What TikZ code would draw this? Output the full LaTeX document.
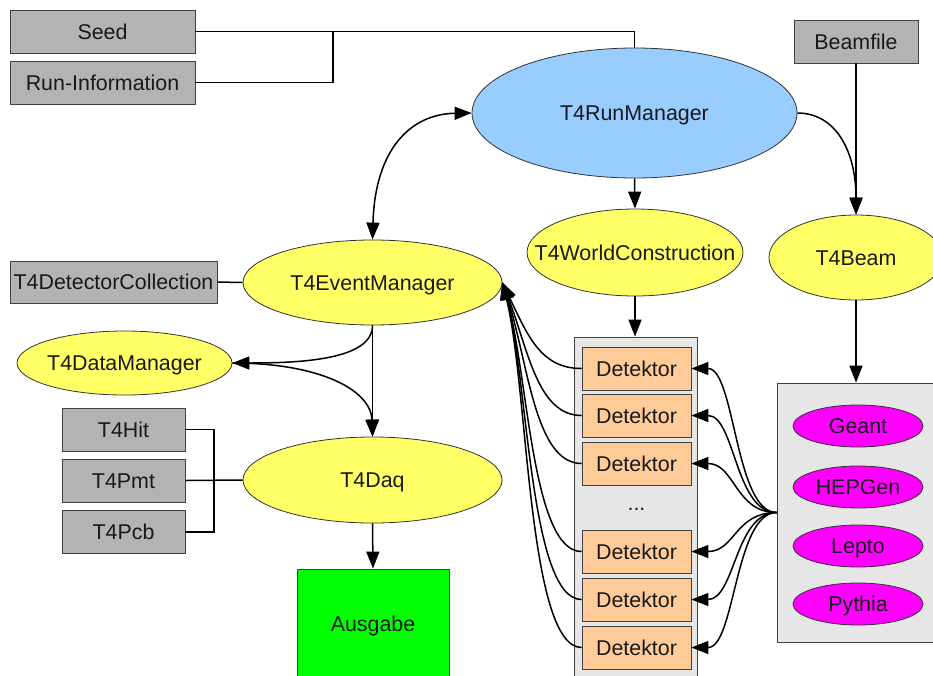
\documentclass[tikz,border=0pt]{standalone}
\usepackage{fontspec}
\setmainfont{Liberation Sans}
\usetikzlibrary{arrows.meta,shapes.geometric}
\definecolor{boxgray}{HTML}{B3B3B3}
\definecolor{contgray}{HTML}{E6E6E6}
\definecolor{yel}{HTML}{FFFF66}
\definecolor{rmblue}{HTML}{99CCFF}
\definecolor{peach}{HTML}{FFCC99}
\definecolor{mag}{HTML}{FF00FF}
\definecolor{ausgr}{HTML}{00FF00}
\newcommand{\zw}[1]{\makebox[0pt]{#1}}
\begin{document}
\begin{tikzpicture}[x=1pt,y=-1pt,
  every node/.style={font=\fontsize{21.4}{25}\selectfont, inner sep=0pt, text=black!90, text height=15.3pt, text depth=0pt},
  graybox/.style={rectangle, draw=black!75, line width=0.8pt, fill=boxgray, minimum height=43pt},
  detbox/.style={rectangle, draw=black!75, line width=0.8pt, fill=peach, minimum width=109pt, minimum height=43pt},
  cont/.style={rectangle, draw=black!75, line width=0.8pt, fill=contgray},
  ell/.style={ellipse, draw=black!80, line width=0.8pt},
  yell/.style={ell, fill=yel},
  magell/.style={ell, fill=mag, minimum width=130pt, minimum height=42pt},
  conn/.style={line width=1.5pt},
  arr/.style={conn, -{Triangle[length=17pt,width=13pt]}},
  darr/.style={conn, {Triangle[length=17pt,width=13pt]}-{Triangle[length=17pt,width=13pt]}},
]
\useasboundingbox (0,0) rectangle (933,675);
\clip (0,0) rectangle (933,675);

% containers
\node[cont, minimum width=123pt, minimum height=353pt] (detc) at (635.5,513.5) {};
\node[cont, minimum width=162pt, minimum height=259pt] (bc) at (858,512.5) {};

% boxes
\node[graybox, minimum width=185pt] (seed) at (102.5,31.5) {Seed};
\node[graybox, minimum width=185pt] (run) at (102.5,82.5) {Run-Information};
\node[graybox, minimum width=124pt] (bf) at (856,41.5) {Beamfile};
\node[graybox, minimum width=207pt, minimum height=42pt] (dc) at (113.5,282) {T4DetectorCollection};
\node[graybox, minimum width=123pt] (hit) at (123.5,429.5) {T4Hit};
\node[graybox, minimum width=123pt] (pmt) at (123.5,480.5) {T4Pmt};
\node[graybox, minimum width=123pt] (pcb) at (123.5,532) {T4Pcb};
\node[rectangle, draw=black!75, line width=0.8pt, fill=ausgr, minimum width=152pt, minimum height=110pt] (aus) at (373,624) {Ausgabe};

% ellipses
\node[ell, fill=rmblue, minimum width=325pt, minimum height=130pt] (rm) at (634.5,113) {\zw{T4RunManager}};
\node[yell, minimum width=174pt, minimum height=85pt] (beam) at (856,257.5) {\zw{T4Beam}};
\node[yell, minimum width=216pt, minimum height=87pt] (wc) at (635,252.5) {\zw{T4WorldConstruction}};
\node[yell, minimum width=259pt, minimum height=85pt] (em) at (372.5,282.5) {\zw{T4EventManager}};
\node[yell, minimum width=215pt, minimum height=64pt] (dm) at (124.5,363) {\zw{T4DataManager}};
\node[yell, minimum width=259pt, minimum height=86pt] (daq) at (372.5,480) {\zw{T4Daq}};

% detectors
\node[detbox] (d1) at (636.5,368.5) {Detektor};
\node[detbox] (d2) at (636.5,415.5) {Detektor};
\node[detbox] (d3) at (636.5,463.5) {Detektor};
\node (dots) at (636.5,503) {...};
\node[detbox] (d4) at (636.5,551.5) {Detektor};
\node[detbox] (d5) at (636.5,599.5) {Detektor};
\node[detbox] (d6) at (636.5,647.5) {Detektor};

% generators
\node[magell] (geant) at (858,426) {\zw{Geant}};
\node[magell] (hep) at (858,487) {\zw{HEPGen}};
\node[magell] (lepto) at (858,546) {\zw{Lepto}};
\node[magell] (pyth) at (858,604) {\zw{Pythia}};

% connectors
\coordinate (j) at (333,31.5);
\draw[conn] (seed.east) -| (rm.north);
\draw[conn] (run.east) -| (j);
\draw[arr] (bf.south) -- (beam.north);
\draw[arr] (rm.east) .. controls (835,113) and (856,150) .. (beam.north);
\draw[arr] (rm.south) -- (wc.north);
\draw[arr] (wc.south) -- (wc.south |- detc.north);
\draw[arr] (beam.south) -- (beam.south |- bc.north);
\draw[darr] (em.north) .. controls (375,150) and (410,114) .. (rm.west);
\draw[conn] (dc.east) -- (em.west);
\draw[arr] (em.south) -- (daq.north);
\draw[arr] (em.south) .. controls (372.5,360) and (300,363) .. (dm.east);
\draw[arr] (dm.east) .. controls (320,363) and (371,390) .. (daq.north);
\draw[arr] (daq.south) -- (aus.north);
\draw[conn] (pmt.east) -- (daq.west);
\draw[conn] (hit.east) -| (214,480.5) |- (pcb.east);

\foreach \d/\k/\m in {d1/40/55,d2/44/68,d3/47/80,d4/50/92,d5/52/98,d6/54/104}{
  \draw[arr] (\d.west) .. controls +(-\k,0) and +(26,\m) .. (em.east);
  \draw[arr] (bc.west) .. controls (735,512.5) and (735,0 |- \d.east) .. (\d.east);
}
\end{tikzpicture}
\end{document}
